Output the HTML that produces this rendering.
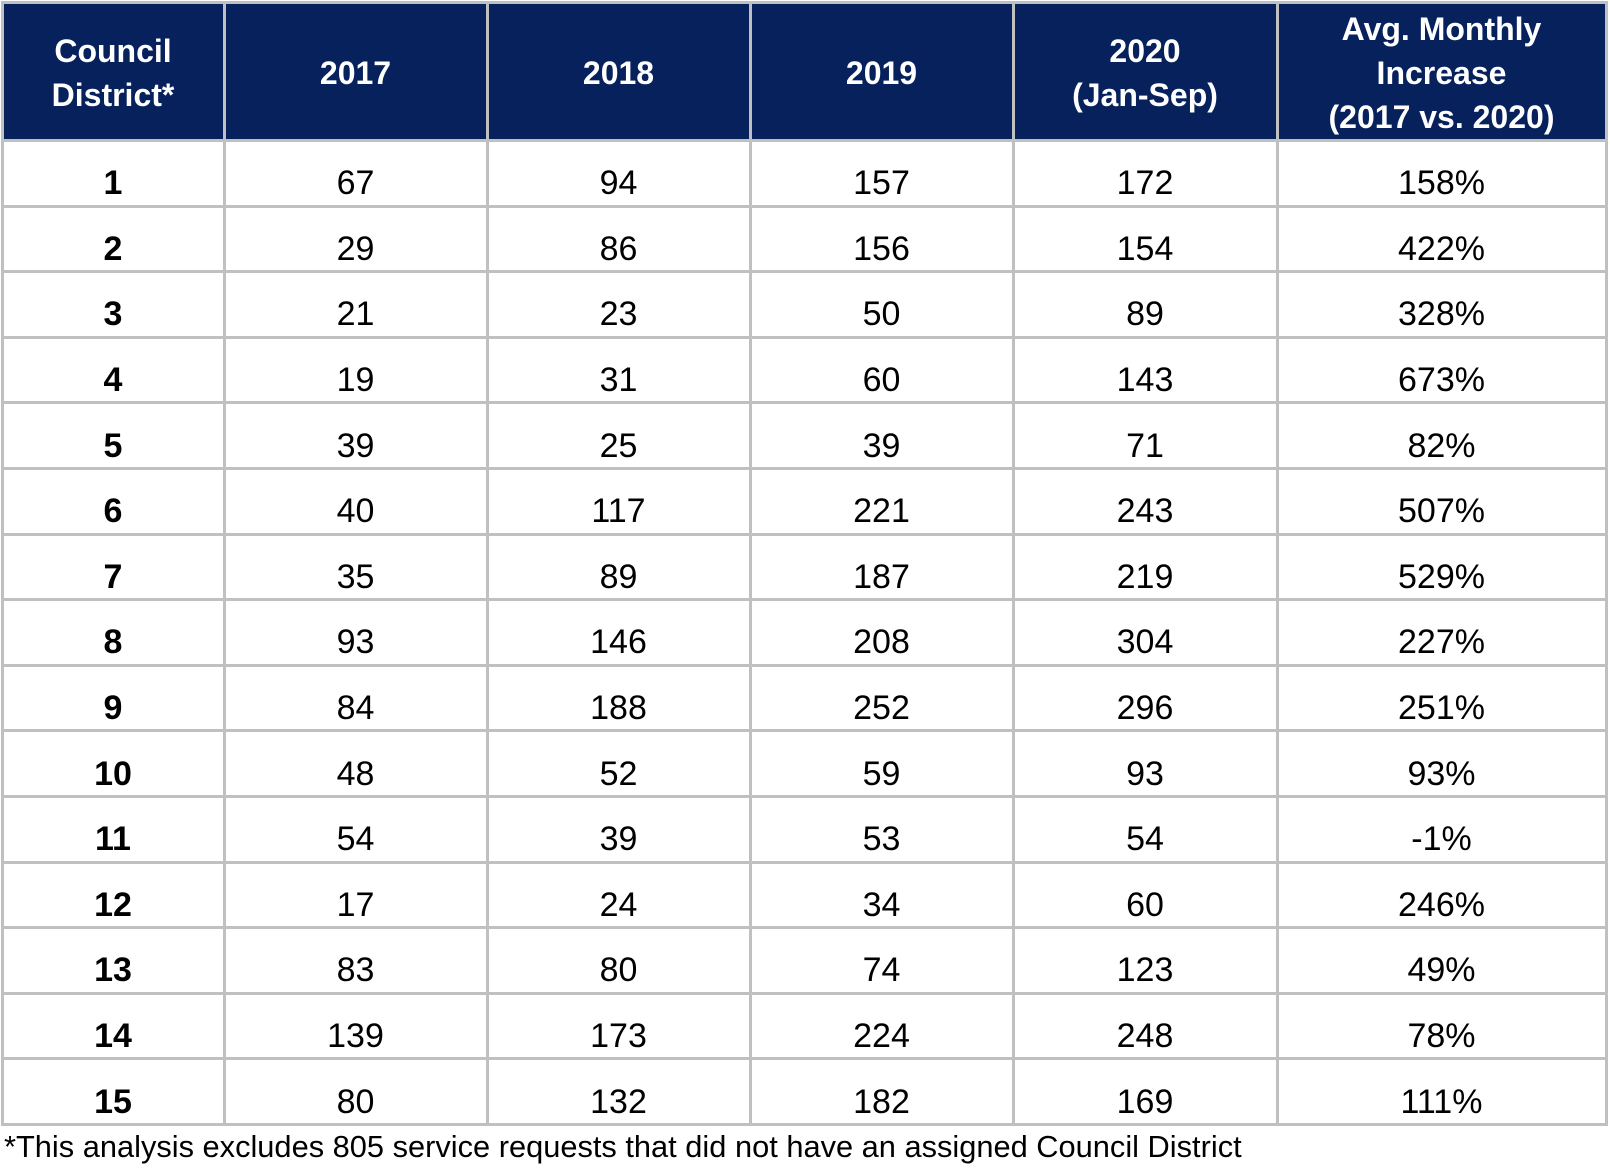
<!DOCTYPE html>
<html><head><meta charset="utf-8"><style>
html,body{margin:0;padding:0;background:#fff;width:1610px;height:1172px;overflow:hidden;position:relative}
.c{position:absolute;display:flex;align-items:center;justify-content:center;text-align:center;font-family:"Liberation Sans",sans-serif;font-size:34px;color:#000;box-sizing:border-box}
.h{background:#06215b;color:#fff;font-weight:bold;font-size:32px;line-height:44px}
.b{font-weight:bold}
.vl{position:absolute;background:#c0c0c0;width:3px}
.hl{position:absolute;background:#c0c0c0;height:3px}
.fn{position:absolute;left:4px;top:1129px;font-family:"Liberation Sans",sans-serif;font-size:30.8px;color:#000;white-space:nowrap}
</style></head><body>
<div id="t"></div>
<div class="fn">*This analysis excludes 805 service requests that did not have an assigned Council District</div>
<script>
(function(){
var xs=[2,224,487,750,1013,1277,1606];
var ys=[2,140];for(var i=1;i<=15;i++)ys.push(140+65.6*i);
var hdr=["Council<br>District*","2017","2018","2019","2020<br>(Jan-Sep)","Avg. Monthly<br>Increase<br>(2017 vs. 2020)"];
var d=[[1,67,94,157,172,"158%"],[2,29,86,156,154,"422%"],[3,21,23,50,89,"328%"],[4,19,31,60,143,"673%"],[5,39,25,39,71,"82%"],[6,40,117,221,243,"507%"],[7,35,89,187,219,"529%"],[8,93,146,208,304,"227%"],[9,84,188,252,296,"251%"],[10,48,52,59,93,"93%"],[11,54,39,53,54,"-1%"],[12,17,24,34,60,"246%"],[13,83,80,74,123,"49%"],[14,139,173,224,248,"78%"],[15,80,132,182,169,"111%"]];
var h="";
for(var r=0;r<16;r++)for(var c=0;c<6;c++){
var x=xs[c],y=ys[r],w=xs[c+1]-x,hh=ys[r+1]-y;
var txt=r==0?hdr[c]:d[r-1][c];
var cls="c"+(r==0?" h":(c==0?" b":""));
var ty=r?y+11:y;
h+='<div class="'+cls+'" style="left:'+x+'px;top:'+ty+'px;width:'+w+'px;height:'+hh+'px;'+(r==0?'padding-top:3px':'')+'">'+txt+'</div>';}
for(var c=0;c<7;c++)h+='<div class="vl" style="left:'+(xs[c]-1)+'px;top:1px;height:'+ys[16]+'px"></div>';
for(var r=0;r<17;r++)h+='<div class="hl" style="top:'+(ys[r]-1)+'px;left:1px;width:1607px"></div>';
document.getElementById("t").innerHTML=h;
})();
</script>
</body></html>
